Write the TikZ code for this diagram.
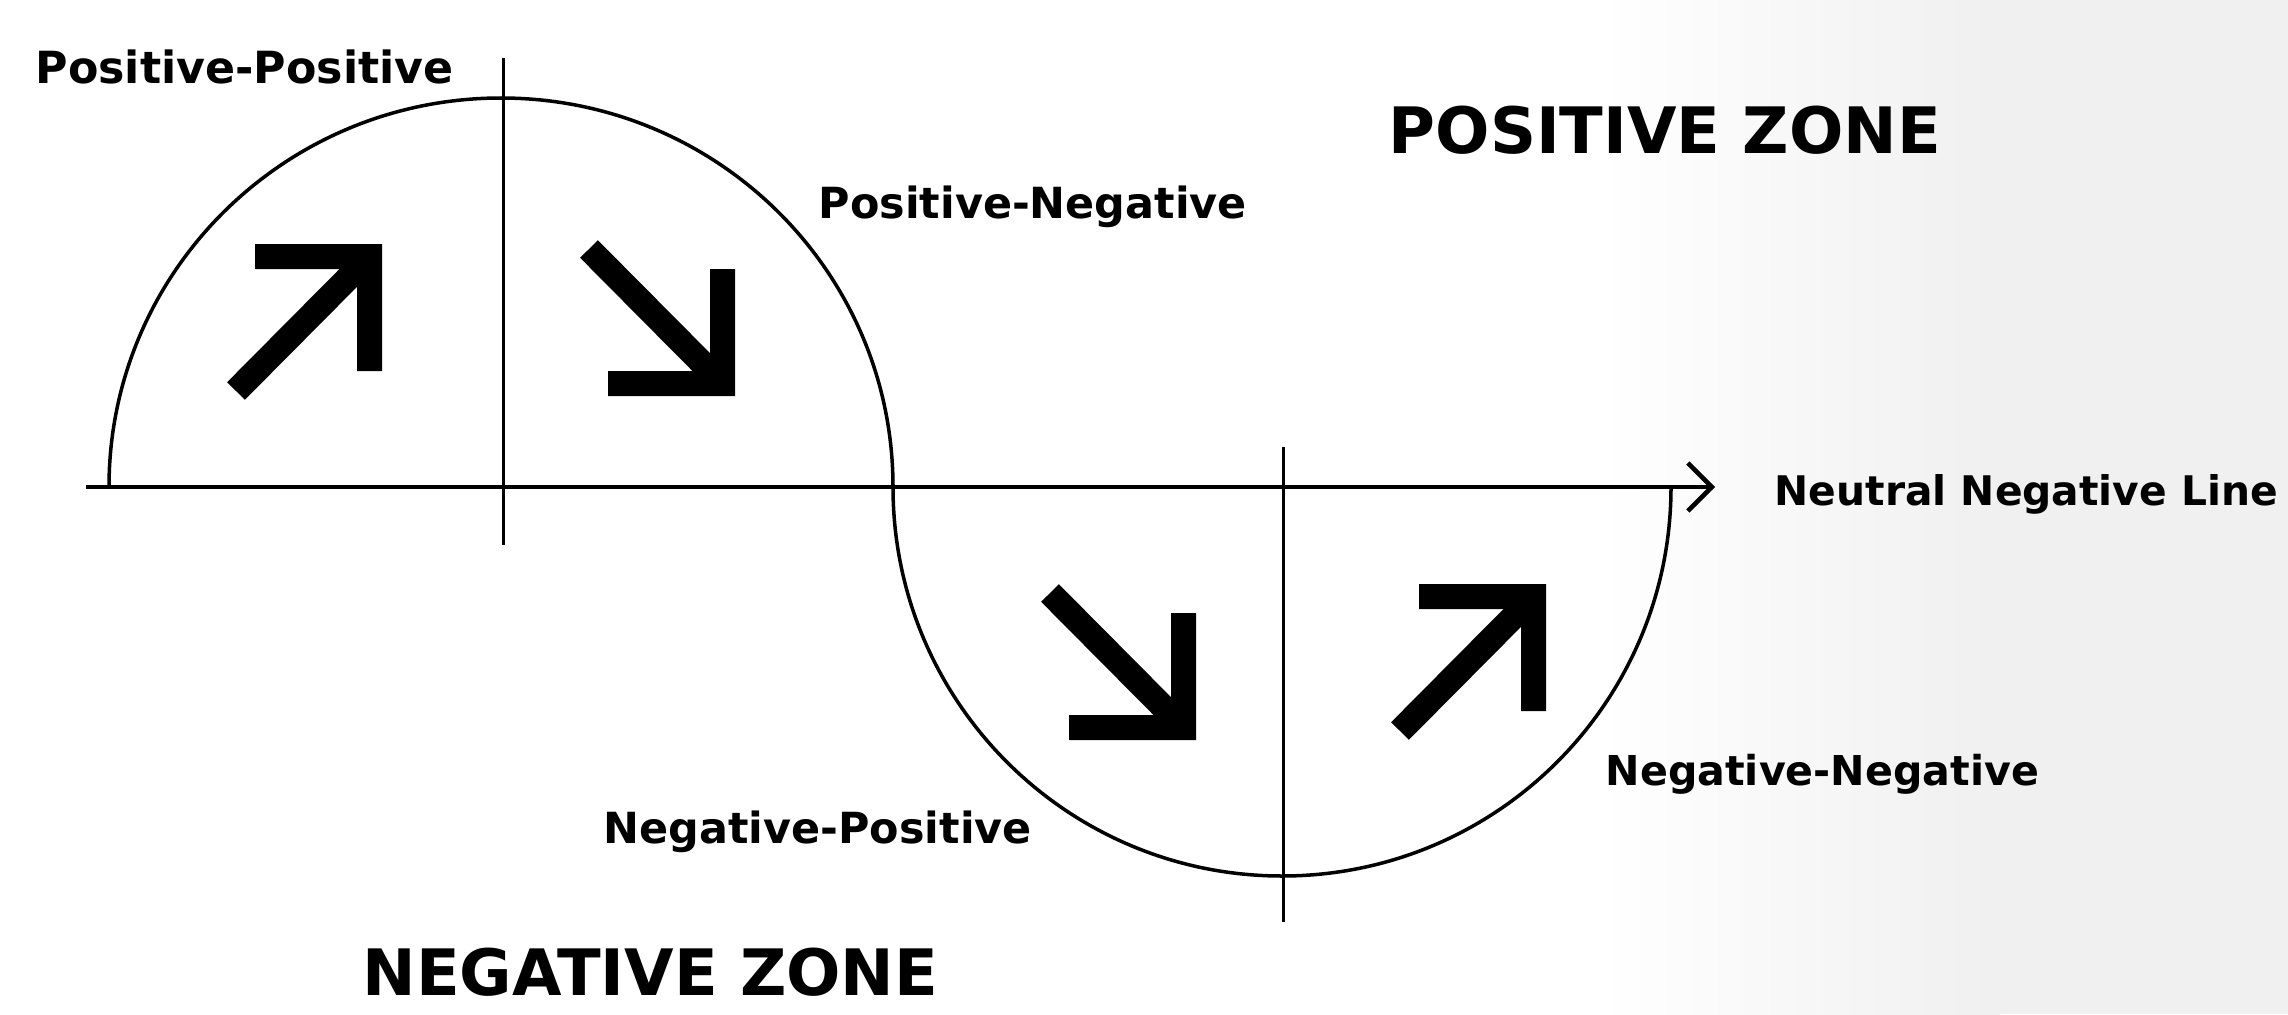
\documentclass[tikz,border=0pt]{standalone}
\usepackage{fontspec}
\setmainfont{DejaVu Sans}
\usetikzlibrary{arrows.meta}
\tikzset{
  lbl/.style={inner sep=0pt, anchor=base west, font=\bfseries\fontsize{#1}{14}\selectfont},
  lbl/.default=12,
  zone/.style={inner sep=0pt, anchor=base west, font=\bfseries\fontsize{18.2}{20}\selectfont},
  axisline/.style={line width=0.045cm, draw=black},
  curveline/.style={line width=0.035cm, draw=black},
  tickline/.style={line width=0.03cm, draw=black},
  nearr/.pic={
    \fill[black] (0,0) -- (-127,0) -- (-127,-25) -- (-25,-25) -- (-25,-127) -- (0,-127) -- cycle;
    \draw[line width=0.25cm, line cap=butt] (-12,-12) -- (-146,-147);
  },
  searr/.pic={
    \fill[black] (0,0) -- (-127,0) -- (-127,25) -- (-25,25) -- (-25,127) -- (0,127) -- cycle;
    \draw[line width=0.25cm, line cap=butt] (-12,12) -- (-146,147);
  }
}
\begin{document}
\begin{tikzpicture}[x=0.01cm, y=0.01cm]
  % background
  \useasboundingbox (0,0) rectangle (2288,1014);
  \fill[white] (0,0) rectangle (2288,1014);
  \shade[left color=white, right color=black!6] (1600,0) rectangle (2000,1014);
  \fill[black!6] (2000,0) rectangle (2288,1014);

  % coordinates
  \coordinate (axL) at (86,527);
  \coordinate (axR) at (1715,527);
  \coordinate (sStart) at (109,527);
  \coordinate (v1top) at (503,956);
  \coordinate (v1bot) at (503,469);
  \coordinate (v2top) at (1283,567);
  \coordinate (v2bot) at (1283,92);

  % S-shaped curve
  \draw[curveline] (sStart) arc[start angle=180, end angle=0, x radius=392, y radius=389]
                             arc[start angle=180, end angle=360, x radius=389, y radius=389];

  % neutral line with arrow
  \draw[axisline, -{Straight Barb[length=0.24cm, width=0.48cm]}] (axL) -- (axR);

  % vertical lines
  \draw[tickline] (v1top) -- (v1bot);
  \draw[tickline] (v2top) -- (v2bot);

  % block arrows
  \pic (a1) at (382,770) {nearr};
  \pic (a2) at (735,618) {searr};
  \pic (a3) at (1196,274) {searr};
  \pic (a4) at (1546,430) {nearr};

  % labels
  \node[lbl=12.6] (pp) at (35,930) {Positive-Positive};
  \node[lbl=12.2] (pn) at (818,796) {Positive-Negative};
  \node[lbl=12.2] (np) at (603,171) {Negative-Positive};
  \node[lbl=11.7] (nn) at (1605,229) {Negative-Negative};
  \node[lbl=11.6] (nnl) at (1774,509) {Neutral Negative Line};
  \node[zone] (pz) at (1388,861) {POSITIVE ZONE};
  \node[zone] (nz) at (362,19) {NEGATIVE ZONE};
\end{tikzpicture}
\end{document}
